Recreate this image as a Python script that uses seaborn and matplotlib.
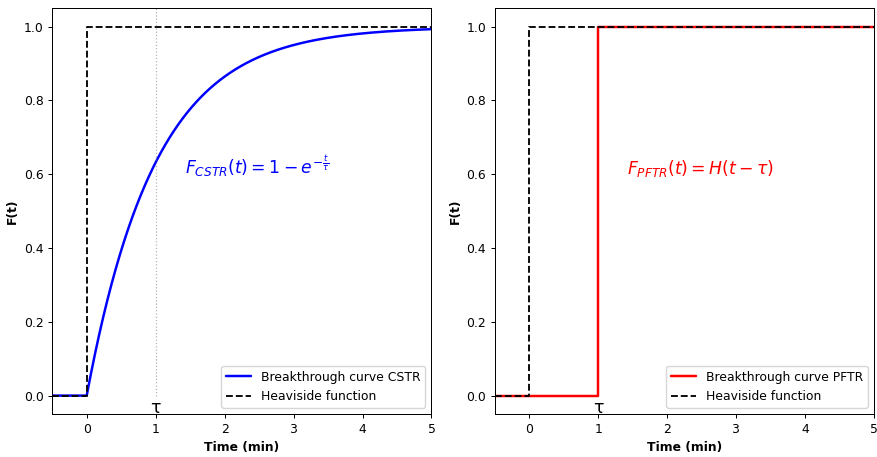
import numpy as np
import pandas as pd
import seaborn as sns
import matplotlib
matplotlib.use("Agg")
import matplotlib.pyplot as plt

# Residence time and time grid (min)
tau = 1.0
t_start, t_end = -0.5, 5.0
time = np.linspace(t_start, t_end, 1101)

# Breakthrough curves: F_CSTR = 1 - exp(-t/tau), F_PFTR = H(t - tau)
f_cstr = np.where(time >= 0, 1 - np.exp(-np.clip(time, 0, None) / tau), 0.0)
pftr_time = [t_start, tau, tau, t_end]
pftr_value = [0.0, 0.0, 1.0, 1.0]

# Heaviside step at t = 0
step_time = [t_start, 0.0, 0.0, t_end]
step_value = [0.0, 0.0, 1.0, 1.0]

x_ticks = [0, 1, 2, 3, 4, 5]
y_ticks = [0.0, 0.2, 0.4, 0.6, 0.8, 1.0]

cstr_df = pd.DataFrame({"t": time, "F": f_cstr})
pftr_df = pd.DataFrame({"t": pftr_time, "F": pftr_value})
step_df = pd.DataFrame({"t": step_time, "F": step_value})

sns.set_style("white")
plt.rcParams["font.family"] = ["DejaVu Sans"]
plt.rcParams["axes.edgecolor"] = "black"
plt.rcParams["text.color"] = "black"
plt.rcParams["axes.labelcolor"] = "black"
plt.rcParams["xtick.color"] = "black"
plt.rcParams["ytick.color"] = "black"
plt.rcParams["xtick.bottom"] = True
plt.rcParams["ytick.left"] = True

s = 0.89  # overall text/line scale
base = 10 * s

fig, axes = plt.subplots(1, 2, figsize=(8.78, 4.57), dpi=100)
fig.subplots_adjust(left=0.0595, right=0.9955, top=0.982, bottom=0.094,
                    wspace=0.167)

panels = [
    (axes[0], cstr_df, "blue", "Breakthrough curve CSTR",
     r"$F_{CSTR}(t) = 1 - e^{-\frac{t}{\tau}}$"),
    (axes[1], pftr_df, "red", "Breakthrough curve PFTR",
     r"$F_{PFTR}(t) = H(t - \tau)$"),
]

for i, (ax, df, color, label, formula) in enumerate(panels):
    sns.lineplot(data=df, x="t", y="F", ax=ax, color=color, linewidth=2 * s,
                 label=label, sort=False, estimator=None)
    sns.lineplot(data=step_df, x="t", y="F", ax=ax, color="black",
                 linewidth=1.5 * s, linestyle="--", label="Heaviside function",
                 sort=False, estimator=None)
    if i == 0:
        ax.vlines(tau, 0, 1.05, colors="gray", linestyles=":",
                  linewidth=1.0 * s, alpha=0.6)
    ax.text(tau, -0.01, "τ", ha="center", va="top", fontsize=14 * s)
    ax.text(1.42, 0.6, formula, color=color, fontsize=14 * s, va="baseline")
    ax.set_xlim(t_start, t_end)
    ax.set_ylim(-0.05, 1.05)
    ax.set_xticks(x_ticks)
    ax.set_yticks(y_ticks)
    ax.tick_params(labelsize=base, length=3.5 * s, width=0.8 * s,
                   colors="black", pad=3.5 * s)
    ax.set_xlabel("Time (min)", fontweight="bold", fontsize=base, labelpad=4 * s)
    ax.set_ylabel("F(t)", fontweight="bold", fontsize=base, labelpad=4 * s)
    leg = ax.legend(loc="lower right", fontsize=base, frameon=True)
    for txt in leg.get_texts():
        txt.set_color("black")
    for sp in ax.spines.values():
        sp.set_visible(True)
        sp.set_linewidth(0.8 * s)

fig.savefig("out.png", dpi=100)
